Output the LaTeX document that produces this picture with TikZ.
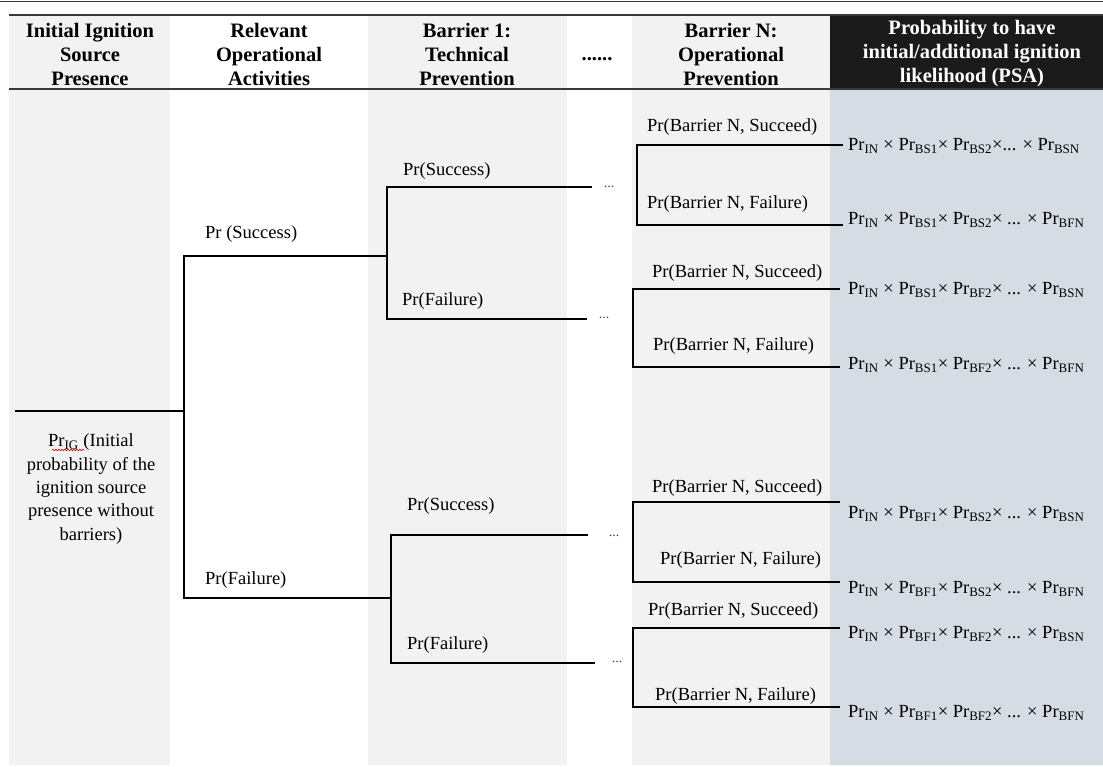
\documentclass[tikz,border=0pt]{standalone}
\usepackage{fontspec}
\setmainfont{Liberation Serif}
\usetikzlibrary{decorations.pathmorphing}

\definecolor{colgray}{HTML}{F2F2F2}
\definecolor{colblue}{HTML}{D6DCE4}
\definecolor{hdrdark}{HTML}{1A1A1A}
\definecolor{rulegray}{HTML}{3A3A3A}

% probability symbol with subscript
\newcommand{\PR}[1]{Pr\textsubscript{#1}}

\tikzset{
  hdr/.style={font=\bfseries\fontsize{20.5}{24}\selectfont, align=center, inner sep=0pt},
  lbl/.style={font=\fontsize{18.5}{23.3}\selectfont, inner sep=0pt, anchor=west},
  prod/.style={font=\fontsize{18.5}{22}\selectfont, inner sep=0pt, anchor=west},
  tree/.style={draw=black, line width=1.1pt},
  gap/.style={font=\fontsize{14}{14}\selectfont, text=black!75, inner sep=0pt},
  rulethin/.style={draw=rulegray, line width=1pt},
  rulethick/.style={draw=rulegray, line width=1.6pt},
}

\begin{document}
\begin{tikzpicture}[x=1pt,y=-1pt]
\useasboundingbox (0,0) rectangle (1103,767);

% column shading
\fill[colgray] (9,15) rectangle (170,765);
\fill[colgray] (368,15) rectangle (567,765);
\fill[colgray] (632,15) rectangle (830,765);
\fill[colblue] (830,89) rectangle (1103,765);
\fill[hdrdark] (830,15) rectangle (1103,89);

% table rules
\draw[rulethin] (0,2) -- (1103,2);
\draw[rulethick] (9,15) -- (1103,15);
\draw[rulethick] (9,89) -- (1103,89);

% column headings
\node[hdr] (h1) at (90,54) {Initial Ignition\\Source\\Presence};
\node[hdr] (h2) at (269,54) {Relevant\\Operational\\Activities};
\node[hdr] (h3) at (467,54) {Barrier 1:\\Technical\\Prevention};
\node[hdr, anchor=base] (h4) at (597,61) {......};
\node[hdr] (h5) at (731,54) {Barrier N:\\Operational\\Prevention};
\node[hdr, text=white] (h6) at (972,54) {Probability to have\\initial/additional ignition\\likelihood (PSA)};

% initial event
\node[font=\fontsize{18.5}{23.3}\selectfont, align=center, inner sep=0pt] (root) at (91,489)
  {\PR{IG} (Initial\\probability of the\\ignition source\\presence without\\barriers)};
\draw[red!80!black, line width=0.6pt, decorate,
      decoration={snake, amplitude=0.8pt, segment length=3pt}] (52,450) -- (84,450);

% branch points
\coordinate (r0) at (15,411);
\coordinate (r1) at (184,411);
\coordinate (a)  at (184,256);
\coordinate (b)  at (184,598);
\coordinate (a1) at (387,256);
\coordinate (b1) at (391,598);
\coordinate (aS) at (387,187);
\coordinate (aF) at (387,319);
\coordinate (bS) at (391,535);
\coordinate (bF) at (391,663);
\coordinate (aSe) at (592,187);
\coordinate (aFe) at (587,319);
\coordinate (bSe) at (588,535);
\coordinate (bFe) at (595,663);

% barrier N brackets
\coordinate (k1t) at (843,145); \coordinate (k1a) at (637,145);
\coordinate (k1b) at (637,225); \coordinate (k1e) at (843,225);
\coordinate (k2t) at (840,289); \coordinate (k2a) at (633,289);
\coordinate (k2b) at (633,367); \coordinate (k2e) at (840,367);
\coordinate (k3t) at (840,502); \coordinate (k3a) at (633,502);
\coordinate (k3b) at (633,582); \coordinate (k3e) at (840,582);
\coordinate (k4t) at (840,628); \coordinate (k4a) at (633,628);
\coordinate (k4b) at (633,707); \coordinate (k4e) at (840,707);

% tree
\draw[tree] (r0) -- (r1);
\draw[tree] (a1) -- (a) -- (b) -- (b1);
\draw[tree] (aSe) -- (aS) -- (aF) -- (aFe);
\draw[tree] (bSe) -- (bS) -- (bF) -- (bFe);
\draw[tree] (k1t) -- (k1a) -- (k1b) -- (k1e);
\draw[tree] (k2t) -- (k2a) -- (k2b) -- (k2e);
\draw[tree] (k3t) -- (k3a) -- (k3b) -- (k3e);
\draw[tree] (k4t) -- (k4a) -- (k4b) -- (k4e);

% intermediate barriers omitted
\node[gap] (d1) at (609,187) {...};
\node[gap] (d2) at (604,318) {...};
\node[gap] (d3) at (614,536) {...};
\node[gap] (d4) at (617,662) {...};

% branch labels
\node[lbl] (s1) at (205,234.5) {Pr (Success)};
\node[lbl] (f1) at (205,580) {Pr(Failure)};
\node[lbl] (ss) at (403,171.5) {Pr(Success)};
\node[lbl] (sf) at (402,301.5) {Pr(Failure)};
\node[lbl] (fs) at (407,506.5) {Pr(Success)};
\node[lbl] (ff) at (407,645) {Pr(Failure)};

\node[lbl] (n1s) at (647,127.5) {Pr(Barrier N, Succeed)};
\node[lbl] (n1f) at (647,204.5) {Pr(Barrier N, Failure)};
\node[lbl] (n2s) at (652,273.5) {Pr(Barrier N, Succeed)};
\node[lbl] (n2f) at (653,346.5) {Pr(Barrier N, Failure)};
\node[lbl] (n3s) at (652,488.5) {Pr(Barrier N, Succeed)};
\node[lbl] (n3f) at (660,560.5) {Pr(Barrier N, Failure)};
\node[lbl] (n4s) at (648,611) {Pr(Barrier N, Succeed)};
\node[lbl] (n4f) at (655,696.5) {Pr(Barrier N, Failure)};

% outcome probabilities
\node[prod] (p1) at (848,146) {\PR{IN} × \PR{BS1}× \PR{BS2}×... × \PR{BSN}};
\node[prod] (p2) at (848,220) {\PR{IN} × \PR{BS1}× \PR{BS2}× ... × \PR{BFN}};
\node[prod] (p3) at (848,290) {\PR{IN} × \PR{BS1}× \PR{BF2}× ... × \PR{BSN}};
\node[prod] (p4) at (848,365) {\PR{IN} × \PR{BS1}× \PR{BF2}× ... × \PR{BFN}};
\node[prod] (p5) at (848,514) {\PR{IN} × \PR{BF1}× \PR{BS2}× ... × \PR{BSN}};
\node[prod] (p6) at (848,589) {\PR{IN} × \PR{BF1}× \PR{BS2}× ... × \PR{BFN}};
\node[prod] (p7) at (848,634) {\PR{IN} × \PR{BF1}× \PR{BF2}× ... × \PR{BSN}};
\node[prod] (p8) at (848,713) {\PR{IN} × \PR{BF1}× \PR{BF2}× ... × \PR{BFN}};
\end{tikzpicture}
\end{document}
